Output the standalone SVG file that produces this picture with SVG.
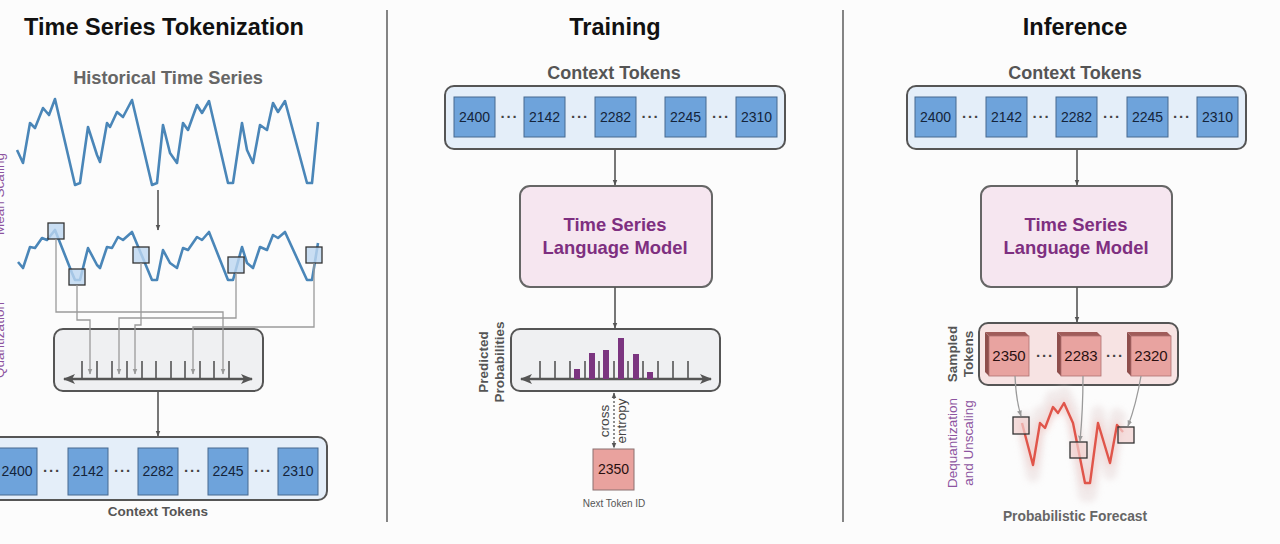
<svg xmlns="http://www.w3.org/2000/svg" width="1280" height="544" viewBox="0 0 1280 544">
<defs>
<style>
text{font-family:"Liberation Sans",Arial,sans-serif}
.title{font-size:23.5px;font-weight:bold;fill:#111;text-anchor:middle}
.sub{font-size:18px;font-weight:bold;fill:#555;text-anchor:middle}
.lbl{font-size:13.5px;font-weight:bold;fill:#555;text-anchor:middle}
.tok{fill:#6ea3db;stroke:#46698f;stroke-width:1}
.tokt{font-size:14px;fill:#14243a;text-anchor:middle}
.dots{font-size:15px;font-weight:bold;fill:#444;text-anchor:middle;letter-spacing:1px}
.ctx{fill:#e4eef9;stroke:#555;stroke-width:2}
.lm{fill:#f6e6f0;stroke:#666;stroke-width:2}
.lmt{font-size:18.4px;font-weight:bold;fill:#7e2f80;text-anchor:middle}
.gbox{fill:#eff0f2;stroke:#555;stroke-width:2}
.conn{fill:none;stroke:#555;stroke-width:1.6}
.qline{fill:none;stroke:#9a9a9a;stroke-width:1.3}
.series{fill:none;stroke:#4a86b8;stroke-width:2.6;stroke-linejoin:round}
.sq{fill:#bcd6f0;fill-opacity:0.8;stroke:#333;stroke-width:1.3}
.axis{stroke:#555;stroke-width:2.6}
.tick{stroke:#555;stroke-width:1.6}
.bar{fill:#7b3580}
.rot{font-size:13.5px;font-weight:bold;fill:#555;text-anchor:middle}
.purple{font-size:13.5px;fill:#8d54a0;text-anchor:middle}
.divider{stroke:#666;stroke-width:1.6}
</style>
<marker id="ah" viewBox="0 0 10 10" refX="9" refY="5" markerWidth="6" markerHeight="6" orient="auto-start-reverse" markerUnits="userSpaceOnUse"><path d="M0,1 L10,5 L0,9 z" fill="#555"/></marker>
<marker id="ahg" viewBox="0 0 10 10" refX="9" refY="5" markerWidth="6" markerHeight="6" orient="auto-start-reverse" markerUnits="userSpaceOnUse"><path d="M0,1 L10,5 L0,9 z" fill="#999"/></marker>
<marker id="ahax" viewBox="0 0 12 12" refX="11" refY="6" markerWidth="12" markerHeight="12" orient="auto-start-reverse" markerUnits="userSpaceOnUse"><path d="M0,1 L12,6 L0,11 L3,6 z" fill="#555"/></marker>
<filter id="blur" x="-20%" y="-20%" width="140%" height="140%"><feGaussianBlur stdDeviation="3"/></filter>
</defs>
<rect x="0" y="0" width="1280" height="544" fill="#fcfcfc"/>

<g id="dividers">
<line class="divider" x1="387" y1="10" x2="387" y2="522"/>
<line class="divider" x1="843" y1="10" x2="843" y2="522"/>
</g>

<g id="titles">
<text class="title" x="164" y="35">Time Series Tokenization</text>
<text class="title" x="615" y="35">Training</text>
<text class="title" x="1075" y="35">Inference</text>
</g>

<g id="side-labels">
<text class="purple" transform="translate(4,194) rotate(-90)">Mean Scaling</text>
<text class="purple" transform="translate(4,340) rotate(-90)">Quantization</text>
</g>

<!-- LEFT PANEL -->
<g id="historical-series">
<text x="168" y="84" style="font-size:18.2px;font-weight:bold;fill:#666;text-anchor:middle">Historical Time Series</text>
<polyline class="series" points="17,150 23,163 30,123 35,128 43,108 49,115 55,99 75,185 80,183 88,127 97,155 100,162 107,123 110,127 117,112 123,117 132,100 152,185 157,183 163,125 170,153 177,163 183,123 188,130 197,105 202,113 209,101 228,183 233,183 242,123 247,150 253,163 260,125 267,130 273,103 278,112 285,101 307,183 312,183 318,122"/>
</g>

<g id="scaled-series">
<polyline class="series" points="18,262 23,268 30,247 35,248 42,238 47,240 55,230 72,273 75,280 80,280 88,248 97,265 100,268 107,247 112,248 118,237 123,240 132,232 152,280 157,280 163,250 170,263 177,268 183,248 188,250 197,237 202,240 209,232 228,280 233,280 242,247 247,263 253,268 260,247 267,250 273,235 278,238 285,232 307,280 312,280 318,243"/>
<rect class="sq" x="48" y="223" width="16" height="16"/>
<rect class="sq" x="69" y="269" width="16" height="16"/>
<rect class="sq" x="133" y="247" width="16" height="16"/>
<rect class="sq" x="228" y="257" width="16" height="16"/>
<rect class="sq" x="306" y="247" width="16" height="16"/>
</g>

<g id="quantization-bins">
<rect class="gbox" x="54" y="329" width="209" height="62" rx="9"/>
<line class="axis" x1="64" y1="379" x2="252" y2="379" marker-start="url(#ahax)" marker-end="url(#ahax)"/>
<g class="tick">
<line x1="82" y1="361" x2="82" y2="379"/><line x1="97" y1="361" x2="97" y2="379"/><line x1="112" y1="361" x2="112" y2="379"/><line x1="127" y1="361" x2="127" y2="379"/><line x1="142" y1="361" x2="142" y2="379"/><line x1="156" y1="361" x2="156" y2="379"/><line x1="171" y1="361" x2="171" y2="379"/><line x1="185" y1="361" x2="185" y2="379"/><line x1="200" y1="361" x2="200" y2="379"/><line x1="214" y1="361" x2="214" y2="379"/><line x1="229" y1="361" x2="229" y2="379"/>
</g>
</g>

<g id="left-context-tokens">
<rect class="ctx" x="-10" y="437" width="337" height="63" rx="9"/>
<rect class="tok" x="-3" y="448" width="40" height="47"/><text class="tokt" x="17" y="476">2400</text>
<text class="dots" x="52" y="476">···</text>
<rect class="tok" x="68" y="448" width="40" height="47"/><text class="tokt" x="88" y="476">2142</text>
<text class="dots" x="123" y="476">···</text>
<rect class="tok" x="138" y="448" width="40" height="47"/><text class="tokt" x="158" y="476">2282</text>
<text class="dots" x="193" y="476">···</text>
<rect class="tok" x="208" y="448" width="40" height="47"/><text class="tokt" x="228" y="476">2245</text>
<text class="dots" x="263" y="476">···</text>
<rect class="tok" x="278" y="448" width="40" height="47"/><text class="tokt" x="298" y="476">2310</text>
<text class="lbl" x="158" y="516">Context Tokens</text>
</g>

<!-- MIDDLE PANEL -->
<g id="train-context-tokens">
<text class="sub" x="614" y="79">Context Tokens</text>
<rect class="ctx" x="445" y="86" width="340" height="63" rx="9"/>
<rect class="tok" x="454" y="97" width="41" height="40"/><text class="tokt" x="474.5" y="122">2400</text>
<text class="dots" x="509.5" y="122">···</text>
<rect class="tok" x="524" y="97" width="41" height="40"/><text class="tokt" x="544.5" y="122">2142</text>
<text class="dots" x="580" y="122">···</text>
<rect class="tok" x="595" y="97" width="41" height="40"/><text class="tokt" x="615.5" y="122">2282</text>
<text class="dots" x="650.5" y="122">···</text>
<rect class="tok" x="665" y="97" width="41" height="40"/><text class="tokt" x="685.5" y="122">2245</text>
<text class="dots" x="721" y="122">···</text>
<rect class="tok" x="736" y="97" width="41" height="40"/><text class="tokt" x="756.5" y="122">2310</text>
</g>

<g id="train-lm">
<rect class="lm" x="520" y="186" width="192" height="101" rx="10"/>
<text class="lmt" x="615" y="231">Time Series</text>
<text class="lmt" x="615" y="254">Language Model</text>
</g>

<g id="predicted-probabilities">
<rect class="gbox" x="511" y="329" width="209" height="62" rx="9"/>
<line class="axis" x1="521" y1="379" x2="711" y2="379" marker-start="url(#ahax)" marker-end="url(#ahax)"/>
<g class="tick">
<line x1="540" y1="361" x2="540" y2="379"/><line x1="555" y1="361" x2="555" y2="379"/><line x1="570" y1="361" x2="570" y2="379"/><line x1="585" y1="361" x2="585" y2="379"/><line x1="599" y1="361" x2="599" y2="379"/><line x1="614" y1="361" x2="614" y2="379"/><line x1="628" y1="361" x2="628" y2="379"/><line x1="643" y1="361" x2="643" y2="379"/><line x1="658" y1="361" x2="658" y2="379"/><line x1="673" y1="361" x2="673" y2="379"/><line x1="688" y1="361" x2="688" y2="379"/>
</g>
<rect class="bar" x="574" y="369" width="6" height="10"/>
<rect class="bar" x="589" y="353" width="6" height="26"/>
<rect class="bar" x="603" y="350" width="6" height="29"/>
<rect class="bar" x="618" y="338" width="6" height="41"/>
<rect class="bar" x="633" y="354" width="6" height="25"/>
<rect class="bar" x="647" y="372" width="6" height="7"/>
<text class="rot" transform="translate(488,362) rotate(-90)">Predicted</text>
<text class="rot" transform="translate(504,362) rotate(-90)">Probabilities</text>
</g>

<g id="next-token">
<rect x="593" y="449" width="41" height="41" fill="#e9a29e" stroke="#8a7070" stroke-width="1"/>
<text class="tokt" x="613.5" y="474" style="fill:#2a1010">2350</text>
<text x="614" y="507" style="font-size:10px;fill:#555;text-anchor:middle">Next Token ID</text>
<text transform="translate(609,421) rotate(-90)" style="font-size:13.5px;fill:#444;text-anchor:middle">cross</text>
<text transform="translate(626,421) rotate(-90)" style="font-size:13.5px;fill:#444;text-anchor:middle">entropy</text>
</g>

<!-- RIGHT PANEL -->
<g id="infer-context-tokens">
<text class="sub" x="1075" y="79">Context Tokens</text>
<rect class="ctx" x="907" y="86" width="339" height="63" rx="9"/>
<rect class="tok" x="915" y="97" width="41" height="40"/><text class="tokt" x="935.5" y="122">2400</text>
<text class="dots" x="971" y="122">···</text>
<rect class="tok" x="986" y="97" width="41" height="40"/><text class="tokt" x="1006.5" y="122">2142</text>
<text class="dots" x="1041.5" y="122">···</text>
<rect class="tok" x="1056" y="97" width="41" height="40"/><text class="tokt" x="1076.5" y="122">2282</text>
<text class="dots" x="1112" y="122">···</text>
<rect class="tok" x="1127" y="97" width="41" height="40"/><text class="tokt" x="1147.5" y="122">2245</text>
<text class="dots" x="1182" y="122">···</text>
<rect class="tok" x="1197" y="97" width="41" height="40"/><text class="tokt" x="1217.5" y="122">2310</text>
</g>

<g id="infer-lm">
<rect class="lm" x="981" y="186" width="191" height="101" rx="10"/>
<text class="lmt" x="1076" y="231">Time Series</text>
<text class="lmt" x="1076" y="254">Language Model</text>
</g>

<g id="sampled-tokens">
<rect x="979" y="323" width="199" height="62" rx="9" fill="#f7e3e3" stroke="#555" stroke-width="2"/>
<polygon points="985,332 1025,332 1029,336 989,336" fill="#a05c5a"/>
<polygon points="985,332 989,336 989,376 985,372" fill="#8e4e4c"/>
<rect x="989" y="336" width="40" height="40" fill="#e8a3a0" stroke="#b07070" stroke-width="0.8"/>
<text class="tokt" x="1009" y="361" style="font-size:15px;fill:#2a1010">2350</text>
<text class="dots" x="1045" y="361">···</text>
<polygon points="1057,332 1097,332 1101,336 1061,336" fill="#a05c5a"/>
<polygon points="1057,332 1061,336 1061,376 1057,372" fill="#8e4e4c"/>
<rect x="1061" y="336" width="40" height="40" fill="#e8a3a0" stroke="#b07070" stroke-width="0.8"/>
<text class="tokt" x="1081" y="361" style="font-size:15px;fill:#2a1010">2283</text>
<text class="dots" x="1115" y="361">···</text>
<polygon points="1127,332 1167,332 1171,336 1131,336" fill="#a05c5a"/>
<polygon points="1127,332 1131,336 1131,376 1127,372" fill="#8e4e4c"/>
<rect x="1131" y="336" width="40" height="40" fill="#e8a3a0" stroke="#b07070" stroke-width="0.8"/>
<text class="tokt" x="1151" y="361" style="font-size:15px;fill:#2a1010">2320</text>
<text class="rot" transform="translate(957,354) rotate(-90)">Sampled</text>
<text class="rot" transform="translate(973,354) rotate(-90)">Tokens</text>
</g>

<g id="forecast">
<polyline points="1022,413 1033,475 1040,413 1045,418 1053,397 1058,403 1064,393 1073,413 1085,495 1090,495 1098,413 1110,473 1117,415 1123,422" fill="none" stroke="#e6d8d8" stroke-width="14" stroke-linejoin="round" opacity="0.5" filter="url(#blur)"/>
<polyline points="1022,423 1033,465 1040,423 1045,428 1053,407 1058,413 1064,403 1073,423 1085,483 1090,483 1098,423 1110,463 1117,425 1123,432" fill="none" stroke="#f3c4c0" stroke-width="7" stroke-linejoin="round" opacity="0.5" filter="url(#blur)"/>
<polyline points="1022,423 1033,465 1040,423 1045,428 1053,407 1058,413 1064,403 1073,423 1085,483 1090,483 1098,423 1110,463 1117,425 1123,432" fill="none" stroke="#e0554a" stroke-width="2.4" stroke-linejoin="round"/>
<rect x="1013" y="417" width="16" height="17" fill="#f2d2d0" fill-opacity="0.7" stroke="#333" stroke-width="1.3"/>
<rect x="1070" y="442" width="17" height="16" fill="#f2d2d0" fill-opacity="0.7" stroke="#333" stroke-width="1.3"/>
<rect x="1118" y="427" width="16" height="16" fill="#f2d2d0" fill-opacity="0.7" stroke="#333" stroke-width="1.3"/>
<text class="purple" transform="translate(957,443) rotate(-90)">Dequantization</text>
<text class="purple" transform="translate(973,443) rotate(-90)">and Unscaling</text>
<text x="1075" y="521" style="font-size:13.8px;font-weight:bold;fill:#666;text-anchor:middle">Probabilistic Forecast</text>
</g>

<g id="connectors">
<line class="conn" x1="158" y1="190" x2="158" y2="230" marker-end="url(#ah)"/>
<line class="conn" x1="158" y1="391" x2="158" y2="436" marker-end="url(#ah)"/>
<polyline class="qline" points="56,239 56,312 223,312 223,374" marker-end="url(#ahg)"/>
<polyline class="qline" points="236,273 236,318 119,318 119,374" marker-end="url(#ahg)"/>
<polyline class="qline" points="77,285 77,320 90,320 90,374" marker-end="url(#ahg)"/>
<polyline class="qline" points="141,263 141,325 135,325 135,374" marker-end="url(#ahg)"/>
<polyline class="qline" points="314,263 314,327 193,327 193,374" marker-end="url(#ahg)"/>
<line class="conn" x1="615" y1="149" x2="615" y2="185" marker-end="url(#ah)"/>
<line class="conn" x1="615" y1="287" x2="615" y2="328" marker-end="url(#ah)"/>
<line x1="614" y1="393" x2="614" y2="448" stroke="#555" stroke-width="1.3" stroke-dasharray="2,2" marker-start="url(#ah)" marker-end="url(#ah)"/>
<line class="conn" x1="1077" y1="149" x2="1077" y2="185" marker-end="url(#ah)"/>
<line class="conn" x1="1077" y1="287" x2="1077" y2="322" marker-end="url(#ah)"/>
<path class="qline" d="M1015,376 Q1016,400 1021,416" marker-end="url(#ahg)"/>
<path class="qline" d="M1083,376 Q1083,410 1080,441" marker-end="url(#ahg)"/>
<path class="qline" d="M1141,376 Q1136,405 1128,426" marker-end="url(#ahg)"/>
</g>
</svg>
